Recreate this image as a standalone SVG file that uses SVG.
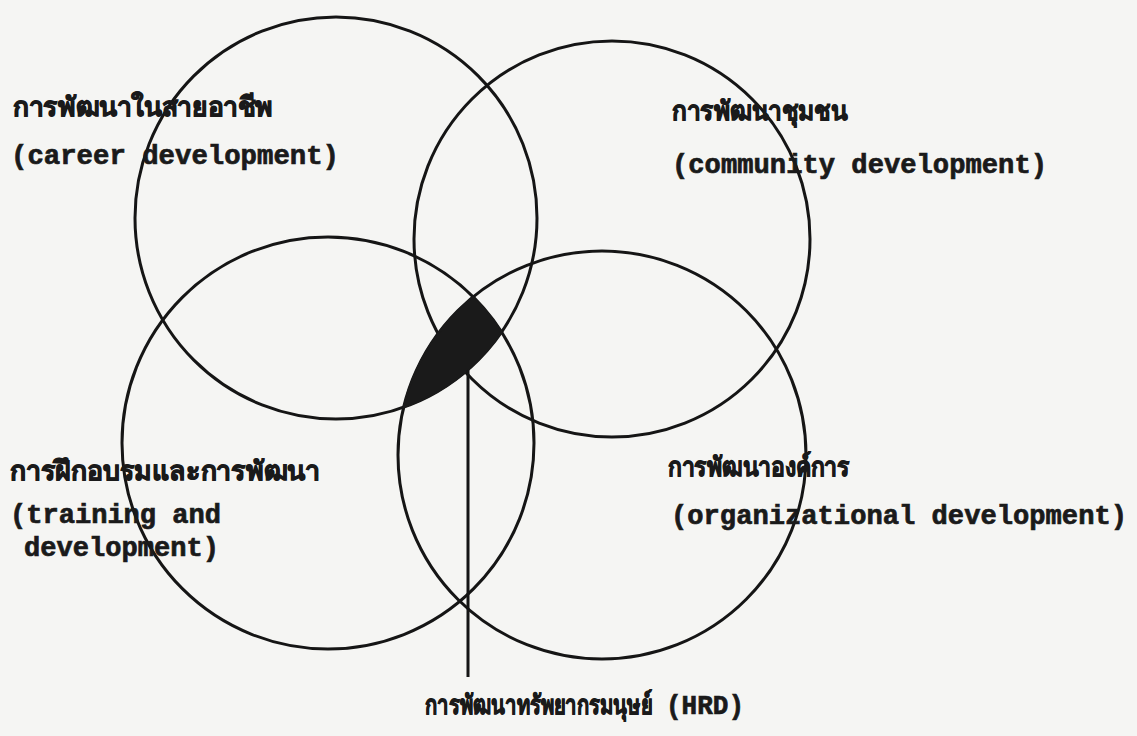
<svg xmlns="http://www.w3.org/2000/svg" width="1137" height="736" viewBox="0 0 1137 736">
<style>
.c{fill:none;stroke:#151515;stroke-width:3}
.th{font-family:"Noto Sans","DejaVu Sans",sans-serif;font-weight:bold;font-size:27px;fill:#1a1a1a;stroke:#1a1a1a;stroke-width:0.9}
.en{font-family:"Liberation Mono","DejaVu Sans Mono",monospace;font-weight:bold;font-size:27px;fill:#1a1a1a;stroke:#1a1a1a;stroke-width:0.7}
</style>
<rect width="1137" height="736" fill="#f5f5f3"/>
<g id="career">
<circle class="c" cx="336" cy="218" r="201"/>
<text class="th" x="13" y="116" textLength="260" lengthAdjust="spacingAndGlyphs">การพัฒนาในสายอาชีพ</text>
<text class="en" x="11" y="164" textLength="328" lengthAdjust="spacingAndGlyphs">(career development)</text>
</g>
<g id="community">
<circle class="c" cx="612" cy="239" r="198"/>
<text class="th" x="672" y="120" textLength="175" lengthAdjust="spacingAndGlyphs">การพัฒนาชุมชน</text>
<text class="en" x="672" y="173" textLength="375" lengthAdjust="spacingAndGlyphs">(community development)</text>
</g>
<g id="training">
<circle class="c" cx="328" cy="443" r="206"/>
<text class="th" x="10" y="480" textLength="310" lengthAdjust="spacingAndGlyphs">การฝึกอบรมและการพัฒนา</text>
<text class="en" x="10" y="523" textLength="211" lengthAdjust="spacingAndGlyphs">(training and</text>
<text class="en" x="24" y="556" textLength="195" lengthAdjust="spacingAndGlyphs">development)</text>
</g>
<g id="organizational">
<circle class="c" cx="602" cy="455" r="204"/>
<text class="th" x="668" y="476" textLength="182" lengthAdjust="spacingAndGlyphs">การพัฒนาองค์การ</text>
<text class="en" x="671" y="524" textLength="456" lengthAdjust="spacingAndGlyphs">(organizational development)</text>
</g>
<g id="hrd">
<path d="M473,297 A206,206 0 0 1 501.5,332 A201,201 0 0 1 403.6,407.3 A204,204 0 0 1 473,297 Z" fill="#1a1a1a" stroke="#1a1a1a" stroke-width="2"/>
<text class="th" transform="translate(425,714) scale(0.8,1)" x="0" y="0" textLength="284" lengthAdjust="spacingAndGlyphs">การพัฒนาทรัพยากรมนุษย์</text>
<text class="en" x="666" y="714" textLength="78" lengthAdjust="spacingAndGlyphs">(HRD)</text>
</g>
<g id="connectors">
<line x1="468" y1="370" x2="468" y2="677" stroke="#151515" stroke-width="3"/>
</g>
</svg>
